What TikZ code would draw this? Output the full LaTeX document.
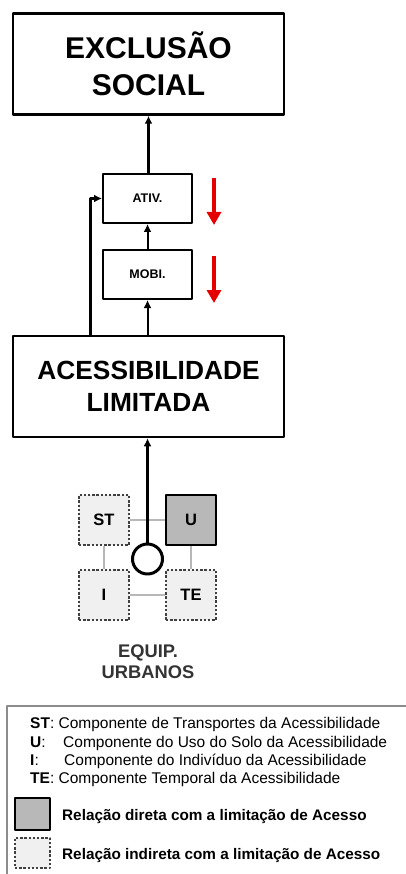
\documentclass[tikz,border=0pt]{standalone}
\usepackage{fontspec}
\setmainfont{Liberation Sans}
\usetikzlibrary{arrows.meta}
\begin{document}
\begin{tikzpicture}[x=1pt,y=-1pt,line join=round,>={Latex[length=8pt,width=8pt]},
bigbox/.style={draw,line width=2.5pt,minimum width=271pt,minimum height=101pt,align=center},
smallbox/.style={draw,line width=2pt,minimum width=89pt,minimum height=49pt,font=\bfseries\fontsize{12.5}{14}\selectfont},
direct/.style={draw,line width=2.5pt,fill=black!28,minimum size=50pt,font=\bfseries\fontsize{16.5}{18}\selectfont},
indirect/.style={draw=black!75,line width=2.4pt,dash pattern=on 2.4pt off 1.8pt,fill=black!6,minimum size=50pt,font=\bfseries\fontsize{16.5}{18}\selectfont},
link/.style={draw=black!28,line width=1.5pt},
redarrow/.style={draw=red!90!black,line width=3.5pt,-{Triangle[length=13pt,width=14pt]}},
keytext/.style={anchor=base west,inner sep=0pt,font=\fontsize{15.5}{18}\selectfont}]
\useasboundingbox (0,0) rectangle (406,874);
\path
(90,0) coordinate (L)
(214,178) coordinate (r1a) (214,225) coordinate (r1b)
(214,256) coordinate (r2a) (214,303) coordinate (r2b)
(7,874) coordinate (k0) (7,706) coordinate (k1) (406,706) coordinate (k2)
;
% main chain
\node[bigbox,font=\bfseries\fontsize{30}{37}\selectfont] (excl) at (148.5,64) {EXCLUSÃO\\SOCIAL};
\node[smallbox] (ativ) at (147.5,198.5) {ATIV.};
\node[smallbox] (mobi) at (147.5,274.5) {MOBI.};
\node[bigbox,font=\bfseries\fontsize{26.3}{32}\selectfont] (aces) at (148.5,386.5) {ACESSIBILIDADE\\LIMITADA};
\draw[->,line width=3pt] (ativ.north -| excl.south) -- (excl.south);
\draw[->,line width=2pt] (mobi.north) -- (ativ.south);
\draw[->,line width=2pt] (aces.north -| mobi.south) -- (mobi.south);
\draw[->,line width=3pt] (aces.north -| L) |- (ativ.west);
\draw[redarrow] (r1a) -- (r1b);
\draw[redarrow] (r2a) -- (r2b);
% components
\node[indirect] (st) at (104,520) {ST};
\node[direct] (u) at (191,520) {U};
\node[indirect] (i) at (104,595) {I};
\node[indirect] (te) at (191,595) {TE};
\draw[link] (st) -- (u) (st) -- (i) (u) -- (te) (i) -- (te);
\node[draw,circle,fill=white,line width=3pt,minimum size=30pt,inner sep=0pt] (eq) at (147.5,559) {};
\draw[->,line width=3.5pt] (eq.north) -- (eq.north |- aces.south);
\node[align=center,text=black!80,font=\bfseries\fontsize{18.3}{21}\selectfont] (urb) at (148,662) {EQUIP.\\URBANOS};
% legend
\draw[black!45,line width=1.2pt] (k0) -- (k1) -- (k2);
\node[keytext] (kst) at (30,728) {\textbf{ST}: Componente de Transportes da Acessibilidade};
\node[keytext] (ku) at (30,747) {\textbf{U}:};
\node[keytext] (kud) at (63,747) {Componente do Uso do Solo da Acessibilidade};
\node[keytext] (ki) at (30,765) {\textbf{I}:};
\node[keytext] (kid) at (64,765) {Componente do Indivíduo da Acessibilidade};
\node[keytext] (kte) at (30,783) {\textbf{TE}: Componente Temporal da Acessibilidade};
\node[direct,minimum width=35pt,minimum height=32pt] (kdir) at (32.5,814) {};
\node[keytext,font=\bfseries\fontsize{15.3}{18}\selectfont] (kdirt) at (62,820) {Relação direta com a limitação de Acesso};
\node[indirect,minimum width=35pt,minimum height=30pt,line width=2pt] (kind) at (32.5,853) {};
\node[keytext,font=\bfseries\fontsize{15.3}{18}\selectfont] (kindt) at (62,859) {Relação indireta com a limitação de Acesso};
\end{tikzpicture}
\end{document}
